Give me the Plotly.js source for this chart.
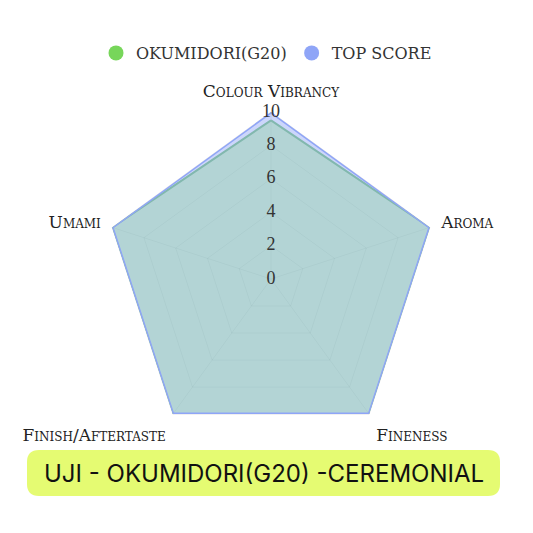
<!DOCTYPE html>
<html>
<head>
<meta charset="utf-8">
<script src="https://cdn.plot.ly/plotly-3.0.1.min.js"></script>
<style>
  html, body { margin: 0; padding: 0; background: #fff; }
  #chart { width: 533px; height: 533px; }
</style>
</head>
<body>
<div id="chart"></div>
<script>
const categories = ['Colour Vibrancy', 'Aroma', 'Fineness', 'Finish/Aftertaste', 'Umami']
const okumidoriScores = [9.5, 10, 10, 10, 10]
const topScores = [10, 10, 10, 10, 10]
const radialTicks = [0, 2, 4, 6, 8, 10]
const chartTitle = 'UJI - OKUMIDORI(G20) -CEREMONIAL'

const green = 'rgb(119,214,90)'
const blue = 'rgb(143,165,247)'
const serif = 'DejaVu Serif, Liberation Serif, serif'

function closed(arr) {
    return arr.concat(arr[0])
}

const data = [
    {
        type: 'scatterpolar',
        name: 'OKUMIDORI(G20)',
        r: closed(okumidoriScores),
        theta: closed(categories),
        mode: 'lines',
        fill: 'toself',
        fillcolor: 'rgba(165,249,119,0.5)',
        line: { color: 'rgb(120,200,115)', width: 2 },
        cliponaxis: false,
        showlegend: false,
        hoverinfo: 'skip'
    },
    {
        type: 'scatterpolar',
        name: 'TOP SCORE',
        r: closed(topScores),
        theta: closed(categories),
        mode: 'lines',
        fill: 'toself',
        fillcolor: 'rgba(143,165,247,0.45)',
        line: { color: blue, width: 3 },
        cliponaxis: false,
        showlegend: false,
        hoverinfo: 'skip'
    },
    // radial tick labels, centred on the top spoke like the original
    // (on an invisible circular twin so the 0 at the centre is kept)
    {
        type: 'scatterpolar',
        subplot: 'polar2',
        r: radialTicks,
        theta: radialTicks.map(() => categories[0]),
        mode: 'text',
        text: radialTicks.map(String),
        textposition: 'middle center',
        textfont: { family: 'Liberation Serif, serif', size: 18, color: '#333' },
        cliponaxis: false,
        showlegend: false,
        hoverinfo: 'skip'
    },
    // legend entries with round markers
    {
        type: 'scatterpolar', name: 'OKUMIDORI(G20)', r: [null], theta: [null],
        mode: 'markers', marker: { color: green, size: 15, symbol: 'circle' }
    },
    {
        type: 'scatterpolar', name: 'TOP SCORE', r: [null], theta: [null],
        mode: 'markers', marker: { color: blue, size: 15, symbol: 'circle' }
    }
]

const r = 12 / 533
const bx0 = 27 / 533, bx1 = 500 / 533
const by0 = 1 - 496 / 533, by1 = 1 - 450 / 533
const boxPath = `M ${bx0 + r},${by0} L ${bx1 - r},${by0} Q ${bx1},${by0} ${bx1},${by0 + r}` +
    ` L ${bx1},${by1 - r} Q ${bx1},${by1} ${bx1 - r},${by1} L ${bx0 + r},${by1}` +
    ` Q ${bx0},${by1} ${bx0},${by1 - r} L ${bx0},${by0 + r} Q ${bx0},${by0} ${bx0 + r},${by0} Z`

const polarDomain = { x: [104 / 533, 438 / 533], y: [1 - 446 / 533, 1 - 112 / 533] }

const layout = {
    width: 533,
    height: 533,
    margin: { l: 0, r: 0, t: 0, b: 0 },
    paper_bgcolor: '#fff',
    showlegend: true,
    legend: {
        orientation: 'h',
        x: 0.5, xanchor: 'center',
        y: 1 - 53 / 533, yanchor: 'middle',
        font: { family: serif, size: 16, color: '#333' },
        itemclick: false
    },
    polar: {
        domain: polarDomain,
        bgcolor: 'rgba(0,0,0,0)',
        gridshape: 'linear',
        radialaxis: {
            range: [0, 10],
            tickvals: radialTicks,
            showticklabels: false,
            ticks: '',
            showline: false,
            layer: 'below traces',
            gridcolor: 'rgba(0,0,0,0.1)',
            gridwidth: 1
        },
        angularaxis: {
            direction: 'clockwise',
            rotation: 90,
            categoryarray: categories,
            ticks: 'outside',
            ticklen: 8,
            tickcolor: 'rgba(0,0,0,0)',
            showline: true,
            layer: 'below traces',
            linecolor: 'rgba(0,0,0,0.1)',
            gridcolor: 'rgba(0,0,0,0.1)',
            tickfont: { family: serif, size: 17, color: '#222', variant: 'small-caps' }
        }
    },
    polar2: {
        domain: polarDomain,
        bgcolor: 'rgba(0,0,0,0)',
        radialaxis: {
            range: [0, 10],
            visible: false,
            showgrid: false
        },
        angularaxis: {
            direction: 'clockwise',
            rotation: 90,
            categoryarray: categories,
            visible: false,
            showgrid: false,
            showline: false
        }
    },
    shapes: [{
        type: 'path', xref: 'paper', yref: 'paper', path: boxPath,
        fillcolor: 'rgb(229,251,114)', line: { width: 0 }, layer: 'below'
    }],
    annotations: [{
        xref: 'paper', yref: 'paper',
        x: (bx0 + bx1) / 2, y: (by0 + by1) / 2,
        xanchor: 'center', yanchor: 'middle',
        text: chartTitle, showarrow: false,
        font: { family: 'Inter, Noto Sans, sans-serif', size: 24, color: '#111' }
    }]
}

Plotly.newPlot('chart', data, layout, { displayModeBar: false, staticPlot: true })
</script>
</body>
</html>
